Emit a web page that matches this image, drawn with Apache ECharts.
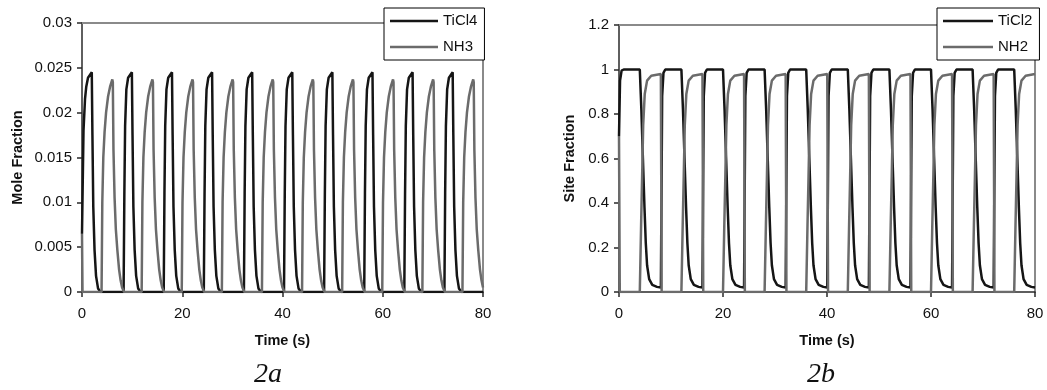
<!DOCTYPE html>
<html>
<head>
<meta charset="utf-8">
<script src="https://cdn.jsdelivr.net/npm/echarts@6/dist/echarts.min.js"></script>
<style>
  html, body { margin: 0; padding: 0; background: #fff; }
  #chart { width: 1047px; height: 390px; }
</style>
</head>
<body>
<div id="chart"></div>
<script>
// x ticks shared by both panels
const timeTicks = [0, 20, 40, 60, 80]

// 2a: gas phase mole fraction, [time s, value]
const ticl4 = [
  [0, 0.0065], [0.3, 0.018], [0.6, 0.0215], [0.85, 0.0229], [1.2, 0.0239], [1.95, 0.0245], [2.08, 0.0175], [2.25, 0.0095], [2.5, 0.0047], [2.8, 0.0018], [3.2, 0.0004], [3.7, 0],
  [8.3, 0], [8.45, 0.011], [8.6, 0.0185], [8.85, 0.0226], [9.2, 0.0239], [9.95, 0.0245], [10.08, 0.0175], [10.25, 0.0095], [10.5, 0.0047], [10.8, 0.0018], [11.2, 0.0004], [11.7, 0],
  [16.3, 0], [16.45, 0.011], [16.6, 0.0185], [16.85, 0.0226], [17.2, 0.0239], [17.95, 0.0245], [18.08, 0.0175], [18.25, 0.0095], [18.5, 0.0047], [18.8, 0.0018], [19.2, 0.0004], [19.7, 0],
  [24.3, 0], [24.45, 0.011], [24.6, 0.0185], [24.85, 0.0226], [25.2, 0.0239], [25.95, 0.0245], [26.08, 0.0175], [26.25, 0.0095], [26.5, 0.0047], [26.8, 0.0018], [27.2, 0.0004], [27.7, 0],
  [32.3, 0], [32.45, 0.011], [32.6, 0.0185], [32.85, 0.0226], [33.2, 0.0239], [33.95, 0.0245], [34.08, 0.0175], [34.25, 0.0095], [34.5, 0.0047], [34.8, 0.0018], [35.2, 0.0004], [35.7, 0],
  [40.3, 0], [40.45, 0.011], [40.6, 0.0185], [40.85, 0.0226], [41.2, 0.0239], [41.95, 0.0245], [42.08, 0.0175], [42.25, 0.0095], [42.5, 0.0047], [42.8, 0.0018], [43.2, 0.0004], [43.7, 0],
  [48.3, 0], [48.45, 0.011], [48.6, 0.0185], [48.85, 0.0226], [49.2, 0.0239], [49.95, 0.0245], [50.08, 0.0175], [50.25, 0.0095], [50.5, 0.0047], [50.8, 0.0018], [51.2, 0.0004], [51.7, 0],
  [56.3, 0], [56.45, 0.011], [56.6, 0.0185], [56.85, 0.0226], [57.2, 0.0239], [57.95, 0.0245], [58.08, 0.0175], [58.25, 0.0095], [58.5, 0.0047], [58.8, 0.0018], [59.2, 0.0004], [59.7, 0],
  [64.3, 0], [64.45, 0.011], [64.6, 0.0185], [64.85, 0.0226], [65.2, 0.0239], [65.95, 0.0245], [66.08, 0.0175], [66.25, 0.0095], [66.5, 0.0047], [66.8, 0.0018], [67.2, 0.0004], [67.7, 0],
  [72.3, 0], [72.45, 0.011], [72.6, 0.0185], [72.85, 0.0226], [73.2, 0.0239], [73.95, 0.0245], [74.08, 0.0175], [74.25, 0.0095], [74.5, 0.0047], [74.8, 0.0018], [75.2, 0.0004], [75.7, 0],
  [80, 0]
]

const nh3 = [
  [0, 0.0065], [0.1, 0],
  [3.9, 0], [4.05, 0.01], [4.25, 0.015], [4.5, 0.0178], [4.8, 0.02], [5.2, 0.0218], [5.6, 0.0229], [6.05, 0.0237], [6.15, 0.0234], [6.28, 0.0158], [6.5, 0.0105], [6.75, 0.007], [7.05, 0.0047], [7.4, 0.0025], [7.7, 0.0013], [8, 0.0005], [8.4, 0],
  [11.9, 0], [12.05, 0.01], [12.25, 0.015], [12.5, 0.0178], [12.8, 0.02], [13.2, 0.0218], [13.6, 0.0229], [14.05, 0.0237], [14.15, 0.0234], [14.28, 0.0158], [14.5, 0.0105], [14.75, 0.007], [15.05, 0.0047], [15.4, 0.0025], [15.7, 0.0013], [16, 0.0005], [16.4, 0],
  [19.9, 0], [20.05, 0.01], [20.25, 0.015], [20.5, 0.0178], [20.8, 0.02], [21.2, 0.0218], [21.6, 0.0229], [22.05, 0.0237], [22.15, 0.0234], [22.28, 0.0158], [22.5, 0.0105], [22.75, 0.007], [23.05, 0.0047], [23.4, 0.0025], [23.7, 0.0013], [24, 0.0005], [24.4, 0],
  [27.9, 0], [28.05, 0.01], [28.25, 0.015], [28.5, 0.0178], [28.8, 0.02], [29.2, 0.0218], [29.6, 0.0229], [30.05, 0.0237], [30.15, 0.0234], [30.28, 0.0158], [30.5, 0.0105], [30.75, 0.007], [31.05, 0.0047], [31.4, 0.0025], [31.7, 0.0013], [32, 0.0005], [32.4, 0],
  [35.9, 0], [36.05, 0.01], [36.25, 0.015], [36.5, 0.0178], [36.8, 0.02], [37.2, 0.0218], [37.6, 0.0229], [38.05, 0.0237], [38.15, 0.0234], [38.28, 0.0158], [38.5, 0.0105], [38.75, 0.007], [39.05, 0.0047], [39.4, 0.0025], [39.7, 0.0013], [40, 0.0005], [40.4, 0],
  [43.9, 0], [44.05, 0.01], [44.25, 0.015], [44.5, 0.0178], [44.8, 0.02], [45.2, 0.0218], [45.6, 0.0229], [46.05, 0.0237], [46.15, 0.0234], [46.28, 0.0158], [46.5, 0.0105], [46.75, 0.007], [47.05, 0.0047], [47.4, 0.0025], [47.7, 0.0013], [48, 0.0005], [48.4, 0],
  [51.9, 0], [52.05, 0.01], [52.25, 0.015], [52.5, 0.0178], [52.8, 0.02], [53.2, 0.0218], [53.6, 0.0229], [54.05, 0.0237], [54.15, 0.0234], [54.28, 0.0158], [54.5, 0.0105], [54.75, 0.007], [55.05, 0.0047], [55.4, 0.0025], [55.7, 0.0013], [56, 0.0005], [56.4, 0],
  [59.9, 0], [60.05, 0.01], [60.25, 0.015], [60.5, 0.0178], [60.8, 0.02], [61.2, 0.0218], [61.6, 0.0229], [62.05, 0.0237], [62.15, 0.0234], [62.28, 0.0158], [62.5, 0.0105], [62.75, 0.007], [63.05, 0.0047], [63.4, 0.0025], [63.7, 0.0013], [64, 0.0005], [64.4, 0],
  [67.9, 0], [68.05, 0.01], [68.25, 0.015], [68.5, 0.0178], [68.8, 0.02], [69.2, 0.0218], [69.6, 0.0229], [70.05, 0.0237], [70.15, 0.0234], [70.28, 0.0158], [70.5, 0.0105], [70.75, 0.007], [71.05, 0.0047], [71.4, 0.0025], [71.7, 0.0013], [72, 0.0005], [72.4, 0],
  [75.9, 0], [76.05, 0.01], [76.25, 0.015], [76.5, 0.0178], [76.8, 0.02], [77.2, 0.0218], [77.6, 0.0229], [78.05, 0.0237], [78.15, 0.0234], [78.28, 0.0158], [78.5, 0.0105], [78.75, 0.007], [79.05, 0.0047], [79.4, 0.0025], [79.7, 0.0013], [80, 0.0005]
]

// 2b: surface site fraction, [time s, value]
const ticl2 = [
  [0, 0.7], [0.2, 0.95], [0.5, 0.995], [0.9, 1], [4, 1], [4.3, 0.82], [4.6, 0.6], [4.9, 0.38], [5.15, 0.22], [5.4, 0.12], [5.8, 0.058], [6.4, 0.032], [7.3, 0.023], [8.05, 0.02],
  [8.15, 0.02], [8.3, 0.88], [8.55, 0.985], [8.9, 1], [12, 1], [12.3, 0.82], [12.6, 0.6], [12.9, 0.38], [13.15, 0.22], [13.4, 0.12], [13.8, 0.058], [14.4, 0.032], [15.3, 0.023], [16.05, 0.02],
  [16.15, 0.02], [16.3, 0.88], [16.55, 0.985], [16.9, 1], [20, 1], [20.3, 0.82], [20.6, 0.6], [20.9, 0.38], [21.15, 0.22], [21.4, 0.12], [21.8, 0.058], [22.4, 0.032], [23.3, 0.023], [24.05, 0.02],
  [24.15, 0.02], [24.3, 0.88], [24.55, 0.985], [24.9, 1], [28, 1], [28.3, 0.82], [28.6, 0.6], [28.9, 0.38], [29.15, 0.22], [29.4, 0.12], [29.8, 0.058], [30.4, 0.032], [31.3, 0.023], [32.05, 0.02],
  [32.15, 0.02], [32.3, 0.88], [32.55, 0.985], [32.9, 1], [36, 1], [36.3, 0.82], [36.6, 0.6], [36.9, 0.38], [37.15, 0.22], [37.4, 0.12], [37.8, 0.058], [38.4, 0.032], [39.3, 0.023], [40.05, 0.02],
  [40.15, 0.02], [40.3, 0.88], [40.55, 0.985], [40.9, 1], [44, 1], [44.3, 0.82], [44.6, 0.6], [44.9, 0.38], [45.15, 0.22], [45.4, 0.12], [45.8, 0.058], [46.4, 0.032], [47.3, 0.023], [48.05, 0.02],
  [48.15, 0.02], [48.3, 0.88], [48.55, 0.985], [48.9, 1], [52, 1], [52.3, 0.82], [52.6, 0.6], [52.9, 0.38], [53.15, 0.22], [53.4, 0.12], [53.8, 0.058], [54.4, 0.032], [55.3, 0.023], [56.05, 0.02],
  [56.15, 0.02], [56.3, 0.88], [56.55, 0.985], [56.9, 1], [60, 1], [60.3, 0.82], [60.6, 0.6], [60.9, 0.38], [61.15, 0.22], [61.4, 0.12], [61.8, 0.058], [62.4, 0.032], [63.3, 0.023], [64.05, 0.02],
  [64.15, 0.02], [64.3, 0.88], [64.55, 0.985], [64.9, 1], [68, 1], [68.3, 0.82], [68.6, 0.6], [68.9, 0.38], [69.15, 0.22], [69.4, 0.12], [69.8, 0.058], [70.4, 0.032], [71.3, 0.023], [72.05, 0.02],
  [72.15, 0.02], [72.3, 0.88], [72.55, 0.985], [72.9, 1], [76, 1], [76.3, 0.82], [76.6, 0.6], [76.9, 0.38], [77.15, 0.22], [77.4, 0.12], [77.8, 0.058], [78.4, 0.032], [79.3, 0.023], [80, 0.02]
]

const nh2 = [
  [0, 0.7], [0.15, 0],
  [4, 0], [4.25, 0.3], [4.45, 0.52], [4.65, 0.75], [4.95, 0.89], [5.4, 0.95], [6.2, 0.972], [8.05, 0.98], [8.2, 0],
  [12, 0], [12.25, 0.3], [12.45, 0.52], [12.65, 0.75], [12.95, 0.89], [13.4, 0.95], [14.2, 0.972], [16.05, 0.98], [16.2, 0],
  [20, 0], [20.25, 0.3], [20.45, 0.52], [20.65, 0.75], [20.95, 0.89], [21.4, 0.95], [22.2, 0.972], [24.05, 0.98], [24.2, 0],
  [28, 0], [28.25, 0.3], [28.45, 0.52], [28.65, 0.75], [28.95, 0.89], [29.4, 0.95], [30.2, 0.972], [32.05, 0.98], [32.2, 0],
  [36, 0], [36.25, 0.3], [36.45, 0.52], [36.65, 0.75], [36.95, 0.89], [37.4, 0.95], [38.2, 0.972], [40.05, 0.98], [40.2, 0],
  [44, 0], [44.25, 0.3], [44.45, 0.52], [44.65, 0.75], [44.95, 0.89], [45.4, 0.95], [46.2, 0.972], [48.05, 0.98], [48.2, 0],
  [52, 0], [52.25, 0.3], [52.45, 0.52], [52.65, 0.75], [52.95, 0.89], [53.4, 0.95], [54.2, 0.972], [56.05, 0.98], [56.2, 0],
  [60, 0], [60.25, 0.3], [60.45, 0.52], [60.65, 0.75], [60.95, 0.89], [61.4, 0.95], [62.2, 0.972], [64.05, 0.98], [64.2, 0],
  [68, 0], [68.25, 0.3], [68.45, 0.52], [68.65, 0.75], [68.95, 0.89], [69.4, 0.95], [70.2, 0.972], [72.05, 0.98], [72.2, 0],
  [76, 0], [76.25, 0.3], [76.45, 0.52], [76.65, 0.75], [76.95, 0.89], [77.4, 0.95], [78.2, 0.972], [80, 0.98]
]

const FONT = '"Liberation Sans", Arial, sans-serif'
const AXIS_DARK = '#2a2a2a'
const BORDER_GRAY = '#8a8a8a'
const BLACK = '#151515'
const GRAY = '#6b6b6b'

// bottom / left axes with ticks and labels
function timeAxis(gridIndex) {
  return {
    type: 'value', gridIndex, min: timeTicks[0], max: timeTicks[timeTicks.length - 1], interval: 20,
    name: 'Time (s)', nameLocation: 'middle', nameGap: 41,
    nameTextStyle: { fontFamily: FONT, fontWeight: 'bold', fontSize: 14.5, color: '#111' },
    axisLine: { onZero: false, lineStyle: { color: AXIS_DARK, width: 1.5 } },
    axisTick: { length: 5, lineStyle: { color: AXIS_DARK, width: 1.5 } },
    axisLabel: { fontFamily: FONT, fontSize: 15, color: '#111', margin: 14 },
    splitLine: { show: false }
  }
}

function fracAxis(gridIndex, name, max, interval, nameGap) {
  return {
    type: 'value', gridIndex, min: 0, max, interval,
    name, nameLocation: 'middle', nameGap,
    nameTextStyle: { fontFamily: FONT, fontWeight: 'bold', fontSize: 14.5, color: '#111' },
    axisLine: { onZero: false, lineStyle: { color: AXIS_DARK, width: 1.5 } },
    axisTick: { length: 5, lineStyle: { color: AXIS_DARK, width: 1.5 } },
    axisLabel: { fontFamily: FONT, fontSize: 15, color: '#111', margin: 10 },
    splitLine: { show: false }
  }
}

// top / right plot-area border drawn as bare axis lines
function borderAxis(gridIndex, position, max) {
  return {
    type: 'value', gridIndex, position, min: 0, max,
    axisLine: { onZero: false, lineStyle: { color: BORDER_GRAY, width: 2 } },
    axisTick: { show: false }, axisLabel: { show: false }, splitLine: { show: false }
  }
}

function lineSeries(name, data, color, xi, yi) {
  return {
    name, type: 'line', data, xAxisIndex: xi, yAxisIndex: yi,
    symbol: 'none', animation: false,
    lineStyle: { color, width: 2.5 }, itemStyle: { color }
  }
}

function legendBox(names, left, itemWidth) {
  return {
    data: names, orient: 'vertical', left, top: 8,
    padding: [4, 7, 4, 6], itemGap: 8, itemWidth, itemHeight: 2.5,
    icon: 'rect',
    backgroundColor: '#fff', borderColor: '#000', borderWidth: 1,
    textStyle: { fontFamily: FONT, fontSize: 15, color: '#111', lineHeight: 18 },
    selectedMode: false
  }
}

const chart = echarts.init(document.getElementById('chart'))

const option = {
  backgroundColor: '#fff',
  animation: false,
  grid: [
    { left: 82, right: 564, top: 23, bottom: 98 },
    { left: 619, right: 12, top: 25, bottom: 98 }
  ],
  xAxis: [
    timeAxis(0),
    borderAxis(0, 'top', 80),
    timeAxis(1),
    borderAxis(1, 'top', 80)
  ],
  yAxis: [
    fracAxis(0, 'Mole Fraction', 0.03, 0.005, 57),
    borderAxis(0, 'right', 0.03),
    fracAxis(1, 'Site Fraction', 1.2, 0.2, 42),
    borderAxis(1, 'right', 1.2)
  ],
  legend: [
    legendBox(['TiCl4', 'NH3'], 384, 48),
    legendBox(['TiCl2', 'NH2'], 937, 50)
  ],
  series: [
    lineSeries('TiCl4', ticl4, BLACK, 0, 0),
    lineSeries('NH3', nh3, GRAY, 0, 0),
    lineSeries('TiCl2', ticl2, BLACK, 2, 2),
    lineSeries('NH2', nh2, GRAY, 2, 2)
  ],
  graphic: [
    { type: 'text', x: 268, y: 375, style: { text: '2a', font: 'italic 28px "Liberation Serif", "Times New Roman", serif', fill: '#111', align: 'center', verticalAlign: 'middle' } },
    { type: 'text', x: 821, y: 375, style: { text: '2b', font: 'italic 28px "Liberation Serif", "Times New Roman", serif', fill: '#111', align: 'center', verticalAlign: 'middle' } }
  ]
}

chart.setOption(option)
</script>
</body>
</html>
